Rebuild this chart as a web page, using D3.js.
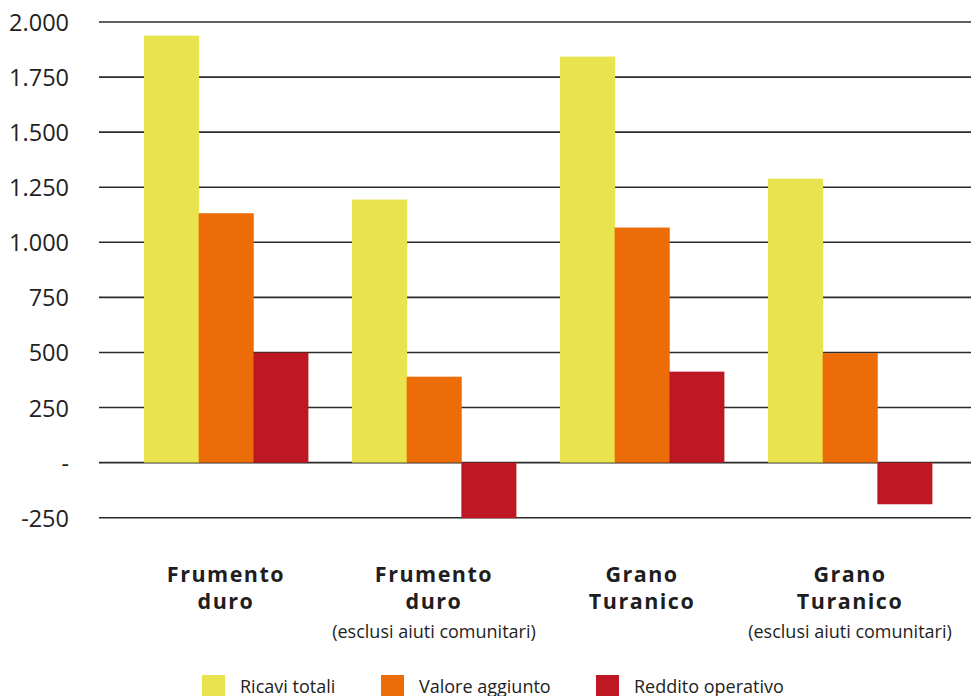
<!DOCTYPE html>
<html>
<head>
<meta charset="utf-8">
<script src="https://cdn.jsdelivr.net/npm/d3@7"></script>
<style>
  html, body { margin: 0; padding: 0; background: #fff; }
  svg { display: block; font-family: "Open Sans", sans-serif; }
</style>
</head>
<body>
<svg id="chart" width="971" height="696"></svg>
<script>
// Categories: main line (bold) + optional note underneath
const categories = ["fd", "fdx", "gt", "gtx"];
const categoryTitles = [["Frumento", "duro"], ["Frumento", "duro"], ["Grano", "Turanico"], ["Grano", "Turanico"]];
const categoryNotes = ["", "(esclusi aiuti comunitari)", "", "(esclusi aiuti comunitari)"];

// Series (€/ha)
const seriesNames = ["Ricavi totali", "Valore aggiunto", "Reddito operativo"];
const ricaviTotali = [1938, 1194, 1843, 1289];
const valoreAggiunto = [1132, 390, 1067, 497];
const redditoOperativo = [499, -252, 413, -189];
const seriesColors = ["#e8e34e", "#ec6c07", "#be1824"];

// Y ticks
const yTicks = [-250, 0, 250, 500, 750, 1000, 1250, 1500, 1750, 2000];
const yTickLabels = ["-250", "-", "250", "500", "750", "1.000", "1.250", "1.500", "1.750", "2.000"];

const seriesValues = [ricaviTotali, valoreAggiunto, redditoOperativo];
const data = categories.map((c, i) => ({
  key: c,
  values: seriesValues.map((arr, s) => ({ series: s, value: arr[i] }))
}));

const svg = d3.select("#chart");
const gridLeft = 99, gridRight = 971;

const y = d3.scaleLinear().domain([-250, 2000]).range([517.7, 22]);
const x = d3.scaleBand().domain(categories).range([122, 954])
  .paddingInner(0.2115).paddingOuter(0.10575);
const xs = d3.scaleBand().domain(d3.range(seriesNames.length)).range([0, x.bandwidth()]);

// Horizontal gridlines
svg.append("g").selectAll("line").data(yTicks).join("line")
  .attr("x1", gridLeft).attr("x2", gridRight)
  .attr("y1", d => y(d)).attr("y2", d => y(d))
  .attr("stroke", "#2b2b2b").attr("stroke-width", 1.6);

// Y axis labels
const yAxis = d3.axisLeft(y).tickValues(yTicks)
  .tickFormat(d => yTickLabels[yTicks.indexOf(d)])
  .tickSize(0).tickPadding(0);
const yg = svg.append("g").attr("transform", "translate(69,0)").call(yAxis);
yg.select(".domain").remove();
yg.selectAll("text")
  .attr("font-family", "'Open Sans', sans-serif")
  .attr("font-size", 23.5).attr("fill", "#222").attr("dy", "0.36em");

// Bars
const groups = svg.append("g").selectAll("g").data(data).join("g")
  .attr("transform", d => `translate(${x(d.key)},0)`);
groups.selectAll("rect").data(d => d.values).join("rect")
  .attr("x", d => xs(d.series))
  .attr("width", xs.bandwidth() + 0.4)
  .attr("y", d => y(Math.max(0, d.value)))
  .attr("height", d => Math.abs(y(d.value) - y(0)))
  .attr("fill", d => seriesColors[d.series]);

// Category labels
const labels = svg.append("g").selectAll("g").data(categories).join("g")
  .attr("transform", d => `translate(${x(d) + x.bandwidth() / 2},0)`);
labels.each(function (d, i) {
  const g = d3.select(this);
  categoryTitles[i].forEach((line, j) => {
    g.append("text")
      .attr("y", 582 + j * 27)
      .attr("text-anchor", "middle")
      .attr("font-size", 21.5).attr("font-weight", 700)
      .attr("letter-spacing", 1.5)
      .attr("fill", "#1e1e1e")
      .text(line);
  });
  if (categoryNotes[i]) {
    g.append("text")
      .attr("y", 638)
      .attr("text-anchor", "middle")
      .attr("font-size", 18)
      .attr("fill", "#1e1e1e")
      .text(categoryNotes[i]);
  }
});

// Legend
const legendX = [202, 381, 596];
const legend = svg.append("g").selectAll("g").data(seriesNames).join("g")
  .attr("transform", (d, i) => `translate(${legendX[i]},675)`);
legend.append("rect").attr("width", 23).attr("height", 22)
  .attr("fill", (d, i) => seriesColors[i]);
legend.append("text").attr("x", 38).attr("y", 17.5)
  .attr("font-size", 18).attr("fill", "#222")
  .text(d => d);
</script>
</body>
</html>
